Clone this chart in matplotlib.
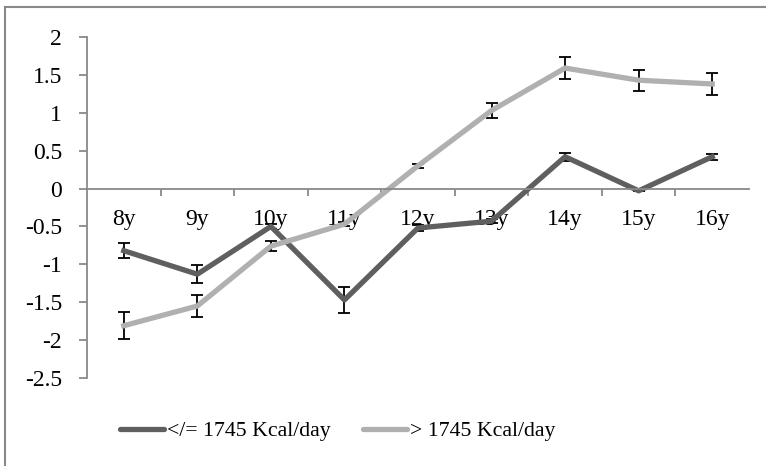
import matplotlib
matplotlib.use('Agg')
import matplotlib.pyplot as plt
from matplotlib.lines import Line2D
import numpy as np

plt.rcParams['font.family'] = ['Liberation Serif', 'DejaVu Serif']

ages = ['8y', '9y', '10y', '11y', '12y', '13y', '14y', '15y', '16y']
low_vals = [-0.82, -1.13, -0.50, -1.47, -0.52, -0.43, 0.42, -0.03, 0.42]
low_err = [0.10, 0.12, 0.03, 0.17, 0.04, 0.03, 0.05, 0.0, 0.04]
high_vals = [-1.81, -1.55, -0.76, -0.47, 0.30, 1.03, 1.59, 1.43, 1.38]
high_err = [0.18, 0.15, 0.07, 0.03, 0.03, 0.10, 0.15, 0.14, 0.14]
yticks = [2, 1.5, 1, 0.5, 0, -0.5, -1, -1.5, -2, -2.5]
labels = ['</= 1745 Kcal/day', '> 1745 Kcal/day']
colors = ['#5f5f5f', '#b0b0b0']

W, H = 766, 466
fig = plt.figure(figsize=(W / 100, H / 100), dpi=100)
ax = fig.add_axes([87 / W, 1 - 378 / H, (749 - 87) / W, (378 - 37) / H])

x = np.arange(len(ages))
err_kw = dict(ecolor='black', elinewidth=1.3, capsize=4.3, capthick=1.3)
ax.errorbar(x, low_vals, yerr=low_err, color=colors[0], lw=3.8, **err_kw)
ax.errorbar(x, high_vals, yerr=high_err, color=colors[1], lw=3.8, **err_kw)

ax.set_xlim(-0.5, len(ages) - 0.5)
ax.set_ylim(-2.5, 2)
ax.set_yticks(yticks)
ax.set_yticklabels([f'{v:g}' for v in yticks])

ax.spines['top'].set_visible(False)
ax.spines['right'].set_visible(False)
ax.spines['bottom'].set_position(('data', 0))
for s in ('left', 'bottom'):
    ax.spines[s].set_color('#898989')
    ax.spines[s].set_linewidth(1.3)

ax.set_xticks(x)
ax.set_xticklabels(ages)
ax.set_xticks(np.arange(0.5, len(ages) - 0.5, 1), minor=True)
ax.tick_params(axis='x', which='major', length=0, pad=15, labelsize=17)
ax.tick_params(axis='x', which='minor', length=5, width=1.3, color='#898989',
               direction='out')
ax.tick_params(axis='y', length=6, width=1.3, color='#898989', pad=12,
               labelsize=17)

handles = [Line2D([], [], color=c, lw=3.8, solid_capstyle='round') for c in colors]
fig.legend(handles, labels, loc='center', bbox_to_anchor=(0.441, 1 - 431 / H),
           ncol=2, frameon=False, fontsize=15.7, handlelength=2.0,
           handletextpad=0.15, columnspacing=1.5)

# outer frame (only top and left edges visible)
fig.add_artist(Line2D([5 / W, 5 / W], [0, 1 - 7 / H], transform=fig.transFigure,
                      color='#898989', lw=1.5))
fig.add_artist(Line2D([5 / W, 1], [1 - 7 / H, 1 - 7 / H], transform=fig.transFigure,
                      color='#898989', lw=1.5))

fig.savefig('out.png', dpi=100)
